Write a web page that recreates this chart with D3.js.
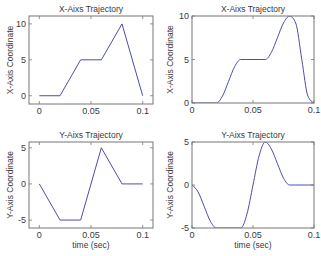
<!DOCTYPE html>
<html>
<head>
<meta charset="utf-8">
<script src="https://cdn.jsdelivr.net/npm/d3@7"></script>
<style>
  body { margin: 0; background: #fff; }
  text { font-family: "Liberation Sans", Arial, sans-serif; fill: #3a3a3a; }
</style>
</head>
<body>
<div id="wrapper"></div>
<script>
// linear trajectories (left column)
const linTime = [0, 0.02, 0.04, 0.06, 0.08, 0.1];
const linX = [0, 0, 5, 5, 10, 0];
const linY = [0, -5, -5, 5, 0, 0];

// smooth trajectories (right column)
const smoothTime = [0, 0.005, 0.01, 0.015, 0.02, 0.025, 0.03, 0.035, 0.04, 0.045, 0.05,
  0.055, 0.06, 0.065, 0.07, 0.075, 0.08, 0.085, 0.09, 0.095, 0.1];
const smoothX = [0, 0, 0, 0, 0, 0.8, 2.5, 4.2, 5, 5, 5, 5, 5, 5.8, 7.5, 9.2, 10, 9.2, 5, 0.8, 0];
const smoothY = [0, -0.8, -2.5, -4.2, -5, -5, -5, -5, -5, -3.4, 0, 3.4, 5, 4.2, 2.5, 0.8, 0, 0, 0, 0, 0];

const xTicks = [0, 0.05, 0.1];
const xTickLabels = ["0", "0.05", "0.1"];
const yTicksX = [0, 5, 10];
const yTicksY = [-5, 0, 5];

const panels = [
  { left: 29, top: 16, w: 124, h: 88, xDom: [-0.01, 0.11], yDom: [-1.15, 11.1], labelX: 10,
    t: linTime, v: linX, yTicks: yTicksX, title: "X-Aixs Trajectory", ylab: "X-Axis Coordinate", xlab: "" },
  { left: 192, top: 16, w: 122, h: 87, xDom: [0, 0.1], yDom: [0, 10], labelX: 170,
    t: smoothTime, v: smoothX, yTicks: yTicksX, title: "X-Aixs Trajectory", ylab: "X-Axis Coordinate", xlab: "", smooth: true },
  { left: 29, top: 142, w: 124, h: 86, xDom: [-0.01, 0.11], yDom: [-6.1, 5.8], labelX: 10,
    t: linTime, v: linY, yTicks: yTicksY, title: "Y-Aixs Trajectory", ylab: "Y-Axis Coordinate", xlab: "time (sec)" },
  { left: 192, top: 142, w: 122, h: 86, xDom: [0, 0.1], yDom: [-5, 5], labelX: 170,
    t: smoothTime, v: smoothY, yTicks: yTicksY, title: "Y-Aixs Trajectory", ylab: "Y-Axis Coordinate", xlab: "time (sec)", smooth: true },
];

const svg = d3.select("#wrapper").append("svg").attr("width", 321).attr("height", 256);

panels.forEach((p, k) => {
  const g = svg.append("g").attr("transform", `translate(${p.left},${p.top})`);
  const x = d3.scaleLinear().domain(p.xDom).range([0, p.w]);
  const y = d3.scaleLinear().domain(p.yDom).range([p.h, 0]);

  g.append("rect").attr("width", p.w).attr("height", p.h).attr("fill", "#fff");

  const clipId = "clip" + k;
  g.append("clipPath").attr("id", clipId).append("rect").attr("width", p.w).attr("height", p.h);

  const line = d3.line()
    .x((d, i) => x(p.t[i]))
    .y(d => y(d))
    .curve(p.smooth ? d3.curveMonotoneX : d3.curveLinear);

  g.append("path")
    .attr("d", line(p.v))
    .attr("fill", "none")
    .attr("stroke", "#4c4cae")
    .attr("stroke-width", 1)
    .attr("clip-path", `url(#${clipId})`);

  // inward ticks on all four sides
  const tl = 3;
  const tk = g.append("g").attr("stroke", "#777").attr("stroke-width", 0.8);
  xTicks.forEach(v => {
    tk.append("line").attr("x1", x(v)).attr("x2", x(v)).attr("y1", p.h).attr("y2", p.h - tl);
    tk.append("line").attr("x1", x(v)).attr("x2", x(v)).attr("y1", 0).attr("y2", tl);
  });
  p.yTicks.forEach(v => {
    tk.append("line").attr("x1", 0).attr("x2", tl).attr("y1", y(v)).attr("y2", y(v));
    tk.append("line").attr("x1", p.w).attr("x2", p.w - tl).attr("y1", y(v)).attr("y2", y(v));
  });

  g.append("rect").attr("width", p.w).attr("height", p.h)
    .attr("fill", "none").attr("stroke", "#777").attr("stroke-width", 1);

  xTicks.forEach((v, i) => {
    g.append("text").attr("x", x(v)).attr("y", p.h + 10)
      .attr("text-anchor", "middle").attr("font-size", 9).text(xTickLabels[i]);
  });
  p.yTicks.forEach(v => {
    g.append("text").attr("x", -3).attr("y", y(v) + 3)
      .attr("text-anchor", "end").attr("font-size", 9).text(v);
  });

  g.append("text").attr("x", p.w / 2).attr("y", -4)
    .attr("text-anchor", "middle").attr("font-size", 8.5).text(p.title);

  g.append("text")
    .attr("transform", `translate(${p.labelX - p.left},${p.h / 2}) rotate(-90)`)
    .attr("text-anchor", "middle").attr("dy", "0.35em").attr("font-size", 8.5).text(p.ylab);

  if (p.xlab) {
    g.append("text").attr("x", p.w / 2).attr("y", p.h + 20)
      .attr("text-anchor", "middle").attr("font-size", 8.5).text(p.xlab);
  }
});
</script>
</body>
</html>
